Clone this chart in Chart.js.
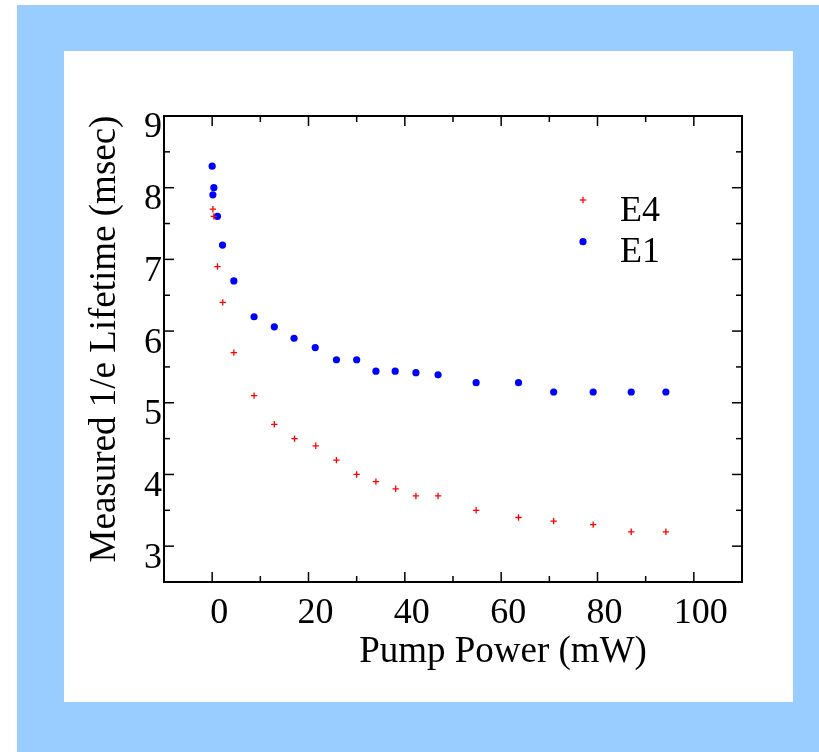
<!DOCTYPE html>
<html>
<head>
<meta charset="utf-8">
<script src="https://cdn.jsdelivr.net/npm/chart.js@4.4.1/dist/chart.umd.min.js"></script>
<style>
  html, body { margin: 0; padding: 0; background: #ffffff; }
  #fond { position: absolute; left: 17px; top: 5px; width: 802px; height: 747px; background: #99ccff; }
  #cadre { position: absolute; left: 64px; top: 51px; width: 729px; height: 651px; background: #ffffff; }
</style>
</head>
<body>
<div id="fond"></div>
<div id="cadre"><canvas id="lifetimeChart"></canvas></div>
<script>
// === Données ===
const e4Power = [0.15, 0.35, 1.1, 2.2, 4.5, 8.7, 12.9, 17.1, 21.5, 25.8, 30.0, 34.0, 38.1, 42.3, 46.9, 54.8, 63.6, 70.9, 79.1, 87.0, 94.2];
const e4Lifetime = [7.7, 7.6, 6.9, 6.4, 5.7, 5.1, 4.7, 4.5, 4.4, 4.2, 4.0, 3.9, 3.8, 3.7, 3.7, 3.5, 3.4, 3.35, 3.3, 3.2, 3.2];
const e1Power = [0, 0.35, 0.15, 1.1, 2.15, 4.5, 8.7, 12.9, 17.0, 21.4, 25.8, 30.0, 34.0, 38.0, 42.3, 46.9, 54.8, 63.6, 70.9, 79.1, 87.0, 94.2];
const e1Lifetime = [8.3, 8.0, 7.9, 7.6, 7.2, 6.7, 6.2, 6.06, 5.9, 5.77, 5.6, 5.6, 5.44, 5.44, 5.42, 5.39, 5.28, 5.28, 5.15, 5.15, 5.15, 5.15];
const seriesNames = ["E4", "E1"];
const xTickLabels = [0, 20, 40, 60, 80, 100];
const yTickLabels = [3, 4, 5, 6, 7, 8, 9];
const xTitle = "Pump Power (mW)";
const yTitle = "Measured 1/e Lifetime (msec)";

const police = "'Liberation Serif', 'Times New Roman', serif";

function toPoints(xs, ys) {
  return xs.map((x, i) => ({ x: x, y: ys[i] }));
}

// === Cadre, graduations intérieures, titres et légende ===
const cadrePlugin = {
  id: "cadre",
  afterDraw(chart) {
    const ctx = chart.ctx;
    const a = chart.chartArea;
    const sx = chart.scales.x;
    const sy = chart.scales.y;
    ctx.save();
    ctx.strokeStyle = "#000";
    ctx.lineCap = "butt";

    function seg(x1, y1, x2, y2) {
      ctx.beginPath();
      ctx.moveTo(x1, y1);
      ctx.lineTo(x2, y2);
      ctx.stroke();
    }

    ctx.lineWidth = 1.5;
    sx.ticks.forEach(t => {
      const px = sx.getPixelForValue(t.value);
      const len = xTickLabels.includes(t.value) ? 10 : 6;
      seg(px, a.bottom, px, a.bottom - len);
      seg(px, a.top, px, a.top + len);
    });
    sy.ticks.forEach(t => {
      const py = sy.getPixelForValue(t.value);
      const len = yTickLabels.includes(t.value) ? 10 : 6;
      seg(a.left, py, a.left + len, py);
      seg(a.right, py, a.right - len, py);
    });

    ctx.lineWidth = 2;
    ctx.strokeRect(a.left, a.top, a.right - a.left, a.bottom - a.top);

    // titres des axes
    ctx.fillStyle = "#000";
    ctx.font = "37px " + police;
    ctx.textAlign = "center";
    ctx.textBaseline = "alphabetic";
    ctx.fillText(xTitle, 439, 611);
    ctx.translate(51, 288);
    ctx.rotate(-Math.PI / 2);
    ctx.fillText(yTitle, 0, 0);
    ctx.restore();

    // légende
    ctx.save();
    ctx.font = "36px " + police;
    ctx.textAlign = "left";
    ctx.textBaseline = "alphabetic";
    ctx.fillStyle = "#000";
    chart.data.datasets.forEach((ds, i) => {
      const mx = 519;
      const my = 149 + i * 41.7;
      if (ds.pointStyle === "cross") {
        ctx.strokeStyle = ds.borderColor;
        ctx.lineWidth = ds.borderWidth;
        seg(mx - ds.pointRadius, my, mx + ds.pointRadius, my);
        seg(mx, my - ds.pointRadius, mx, my + ds.pointRadius);
      } else {
        ctx.fillStyle = ds.backgroundColor;
        ctx.beginPath();
        ctx.arc(mx, my, ds.pointRadius, 0, Math.PI * 2);
        ctx.fill();
      }
      ctx.fillStyle = "#000";
      ctx.fillText(ds.label, 556, 170 + i * 40.7);
    });
    ctx.restore();
  }
};

const ctx = document.getElementById("lifetimeChart").getContext("2d");

new Chart(ctx, {
  type: "scatter",
  data: {
    datasets: [
      {
        label: seriesNames[0],
        data: toPoints(e4Power, e4Lifetime),
        pointStyle: "cross",
        pointRadius: 3.2,
        borderColor: "#ff0000",
        backgroundColor: "#ff0000",
        borderWidth: 1.3
      },
      {
        label: seriesNames[1],
        data: toPoints(e1Power, e1Lifetime),
        pointStyle: "circle",
        pointRadius: 3.6,
        borderWidth: 0,
        borderColor: "#0000ff",
        backgroundColor: "#0000ff"
      }
    ]
  },
  options: {
    responsive: true,
    maintainAspectRatio: false,
    animation: false,
    layout: {
      padding: { top: 65, right: 51, bottom: 0, left: 0 }
    },
    scales: {
      x: {
        type: "linear",
        min: -10,
        max: 110,
        grid: { display: false, drawTicks: false },
        border: { display: false },
        afterFit: s => { s.height = 120; },
        ticks: {
          stepSize: 10,
          autoSkip: false,
          maxRotation: 0,
          padding: 10,
          labelOffset: 7,
          color: "#000",
          font: { family: police, size: 36 },
          callback: v => xTickLabels.includes(v) ? String(v) : ""
        }
      },
      y: {
        type: "linear",
        min: 2.5,
        max: 9,
        grid: { display: false, drawTicks: false },
        border: { display: false },
        afterFit: s => { s.width = 100; },
        ticks: {
          stepSize: 0.5,
          autoSkip: false,
          padding: 2,
          labelOffset: 12,
          color: "#000",
          font: { family: police, size: 36 },
          callback: v => yTickLabels.includes(v) ? String(v) : ""
        }
      }
    },
    plugins: {
      legend: { display: false },
      tooltip: { enabled: false }
    }
  },
  plugins: [cadrePlugin]
});
</script>
</body>
</html>
